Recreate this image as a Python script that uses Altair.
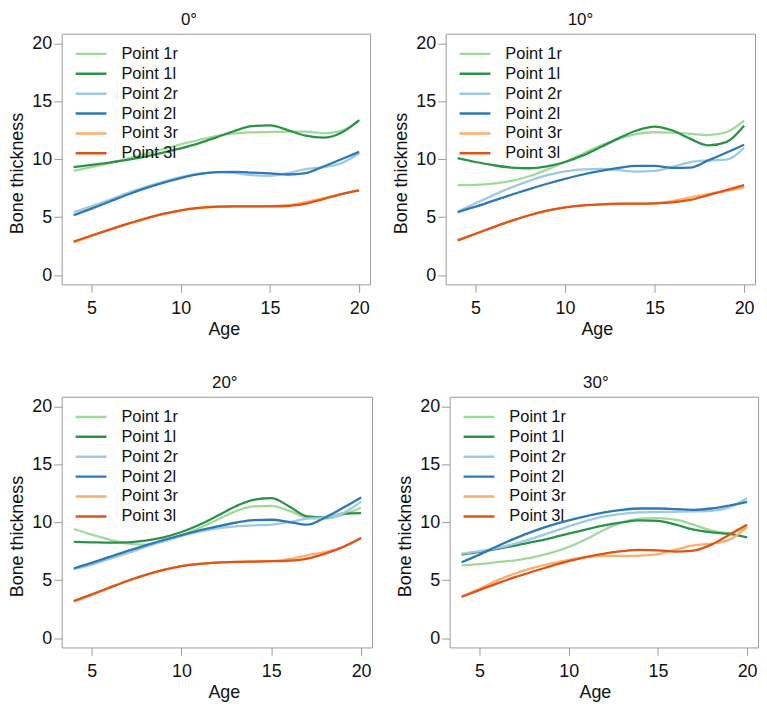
import altair as alt
import pandas as pd

AGES = list(range(4, 21))
SERIES = ["Point 1r", "Point 1l", "Point 2r", "Point 2l", "Point 3r", "Point 3l"]
COLORS = ["#a1d99b", "#2b9348", "#9ecae1", "#2f78b8", "#fdae6b", "#df5314"]
ANGLES = ["0°", "10°", "20°", "30°"]
X_TICKS = [5, 10, 15, 20]
Y_TICKS = [0, 5, 10, 15, 20]

# 0 degrees
A0_1R = [9.0, 9.32, 9.67, 10.07, 10.47, 10.87, 11.3, 11.67, 12.0, 12.24, 12.33, 12.36, 12.39, 12.39, 12.25, 12.45, 13.33]
A0_1L = [9.32, 9.52, 9.72, 9.95, 10.24, 10.58, 10.95, 11.38, 11.9, 12.45, 12.87, 12.93, 12.53, 12.04, 11.87, 12.3, 13.39]
A0_2R = [5.45, 5.94, 6.5, 7.09, 7.6, 8.06, 8.46, 8.75, 8.89, 8.81, 8.63, 8.58, 8.81, 9.15, 9.32, 9.67, 10.53]
A0_2L = [5.17, 5.74, 6.34, 6.94, 7.49, 7.97, 8.38, 8.72, 8.89, 8.92, 8.86, 8.78, 8.69, 8.81, 9.38, 10.01, 10.64]
A0_3R = [2.82, 3.38, 3.9, 4.4, 4.86, 5.27, 5.58, 5.79, 5.9, 5.93, 5.94, 5.95, 6.03, 6.31, 6.66, 7.0, 7.32]
A0_3L = [2.9, 3.42, 3.93, 4.42, 4.88, 5.28, 5.6, 5.8, 5.91, 5.94, 5.94, 5.94, 5.97, 6.17, 6.57, 7.0, 7.32]

# 10 degrees
A10_1R = [7.77, 7.8, 7.91, 8.14, 8.54, 9.11, 9.77, 10.49, 11.2, 11.77, 12.2, 12.34, 12.31, 12.2, 12.09, 12.34, 13.34]
A10_1L = [10.11, 9.77, 9.49, 9.29, 9.23, 9.4, 9.77, 10.34, 11.06, 11.83, 12.49, 12.83, 12.49, 11.77, 11.2, 11.49, 12.91]
A10_2R = [5.49, 6.2, 6.91, 7.57, 8.14, 8.63, 8.97, 9.14, 9.17, 9.06, 8.94, 9.0, 9.34, 9.77, 9.91, 9.97, 11.0]
A10_2L = [5.43, 5.91, 6.43, 6.94, 7.43, 7.89, 8.31, 8.69, 9.0, 9.26, 9.43, 9.43, 9.26, 9.29, 9.91, 10.57, 11.26]
A10_3R = [3.0, 3.57, 4.14, 4.69, 5.17, 5.57, 5.86, 6.03, 6.1, 6.14, 6.15, 6.2, 6.4, 6.71, 7.0, 7.26, 7.57]
A10_3L = [3.0, 3.57, 4.14, 4.69, 5.17, 5.57, 5.86, 6.03, 6.11, 6.17, 6.17, 6.2, 6.29, 6.49, 6.91, 7.34, 7.77]

# 20 degrees
A20_1R = [9.43, 8.94, 8.51, 8.17, 8.08, 8.37, 8.88, 9.51, 10.23, 10.95, 11.38, 11.43, 11.0, 10.43, 10.32, 10.66, 11.29]
A20_1L = [8.31, 8.28, 8.25, 8.28, 8.42, 8.71, 9.17, 9.8, 10.57, 11.38, 11.95, 12.09, 11.38, 10.52, 10.43, 10.75, 10.8]
A20_2R = [5.96, 6.36, 6.85, 7.34, 7.88, 8.37, 8.83, 9.2, 9.48, 9.66, 9.74, 9.8, 10.03, 10.32, 10.43, 10.8, 11.8]
A20_2L = [6.02, 6.5, 7.02, 7.54, 8.02, 8.48, 8.91, 9.31, 9.66, 9.97, 10.2, 10.23, 10.03, 9.8, 10.43, 11.26, 12.15]
A20_3R = [3.15, 3.74, 4.35, 4.94, 5.46, 5.9, 6.22, 6.42, 6.53, 6.59, 6.62, 6.66, 6.82, 7.16, 7.45, 7.88, 8.65]
A20_3L = [3.21, 3.78, 4.38, 4.96, 5.47, 5.9, 6.22, 6.42, 6.53, 6.59, 6.62, 6.65, 6.7, 6.88, 7.31, 7.88, 8.65]

# 30 degrees
A30_1R = [6.28, 6.39, 6.56, 6.73, 6.99, 7.36, 7.88, 8.57, 9.37, 10.0, 10.32, 10.37, 10.23, 9.8, 9.31, 9.08, 9.6]
A30_1L = [7.22, 7.45, 7.71, 8.0, 8.31, 8.65, 9.03, 9.4, 9.74, 10.0, 10.17, 10.14, 9.8, 9.37, 9.14, 9.0, 8.71]
A30_2R = [7.31, 7.51, 7.79, 8.17, 8.62, 9.14, 9.66, 10.14, 10.52, 10.74, 10.86, 10.89, 10.92, 10.95, 11.0, 11.29, 12.09]
A30_2L = [6.56, 7.22, 7.94, 8.62, 9.23, 9.74, 10.17, 10.54, 10.86, 11.09, 11.2, 11.2, 11.15, 11.09, 11.2, 11.46, 11.78]
A30_3R = [3.58, 4.27, 4.99, 5.59, 6.07, 6.45, 6.76, 6.99, 7.11, 7.11, 7.13, 7.25, 7.65, 8.02, 8.17, 8.51, 9.6]
A30_3L = [3.58, 4.15, 4.73, 5.27, 5.76, 6.22, 6.65, 7.02, 7.31, 7.51, 7.62, 7.59, 7.48, 7.56, 8.08, 8.94, 9.8]

PANELS = [
    [A0_1R, A0_1L, A0_2R, A0_2L, A0_3R, A0_3L],
    [A10_1R, A10_1L, A10_2R, A10_2L, A10_3R, A10_3L],
    [A20_1R, A20_1L, A20_2R, A20_2L, A20_3R, A20_3L],
    [A30_1R, A30_1L, A30_2R, A30_2L, A30_3R, A30_3L],
]

FONT = "Liberation Sans"


def panel(title, series_values, width, title_dx, age_title_x):
    rows = []
    for s, vals in zip(SERIES, series_values):
        for a, v in zip(AGES, vals):
            rows.append({"Age": a, "Thickness": v, "Series": s})
    df = pd.DataFrame(rows)
    return (
        alt.Chart(
            df,
            title=alt.Title(title, dx=title_dx),
        )
        .mark_line(interpolate="monotone", strokeWidth=2.3)
        .encode(
            x=alt.X(
                "Age:Q",
                scale=alt.Scale(domain=[3.33, 20.61], nice=False, zero=False),
                axis=alt.Axis(values=X_TICKS, title="Age", titleX=age_title_x),
            ),
            y=alt.Y(
                "Thickness:Q",
                scale=alt.Scale(domain=[-0.8, 20.85], nice=False, zero=False),
                axis=alt.Axis(values=Y_TICKS, title="Bone thickness", titleY=140),
            ),
            color=alt.Color(
                "Series:N",
                sort=SERIES,
                scale=alt.Scale(domain=SERIES, range=COLORS),
                legend=alt.Legend(
                    title=None,
                    orient="none",
                    legendX=12.5,
                    legendY=10.6,
                    symbolType="stroke",
                    symbolSize=961,
                    symbolStrokeWidth=2.5,
                    clipHeight=19.33,
                    rowPadding=0,
                    labelOffset=13.5,
                    symbolOffset=0,
                    padding=0,
                    labelFontSize=16.5,
                    labelFont=FONT,
                    labelColor="#111111",
                    labelLimit=300,
                ),
            ),
        )
        .properties(width=width, height=252)
    )


p1 = panel(ANGLES[0], PANELS[0], 310, -27, 163)
p2 = panel(ANGLES[1], PANELS[1], 311, -20, 152)
p3 = panel(ANGLES[2], PANELS[2], 312, 8, 163)
p4 = panel(ANGLES[3], PANELS[3], 310, -8, 146)

row1 = alt.hconcat(p1, p2, spacing=21).resolve_scale(color="independent").resolve_legend(color="independent")
row2 = alt.hconcat(p3, p4, spacing=23).resolve_scale(color="independent").resolve_legend(color="independent")

chart = (
    alt.vconcat(row1, row2, spacing=34)
    .resolve_scale(color="independent")
    .resolve_legend(color="independent")
    .properties(padding={"left": 0, "top": 0, "right": 0, "bottom": 0})
    .configure_view(stroke="#9a9a9a", strokeWidth=1)
    .configure_axis(
        grid=False,
        domain=False,
        tickColor="#9a9a9a",
        tickSize=8,
        labelFont=FONT,
        labelFontSize=18,
        labelColor="#111111",
        labelFlush=False,
        titleFont=FONT,
        titleFontSize=18,
        titleFontWeight="normal",
        titleColor="#111111",
    )
    .configure_axisX(labelPadding=7, titlePadding=3)
    .configure_axisY(labelPadding=2, titlePadding=5)
    .configure_title(font=FONT, fontSize=17, fontWeight="normal", color="#111111", offset=5, frame="group", anchor="middle")
)

chart.save("out.html", embed_options={"renderer": "svg", "actions": False})
